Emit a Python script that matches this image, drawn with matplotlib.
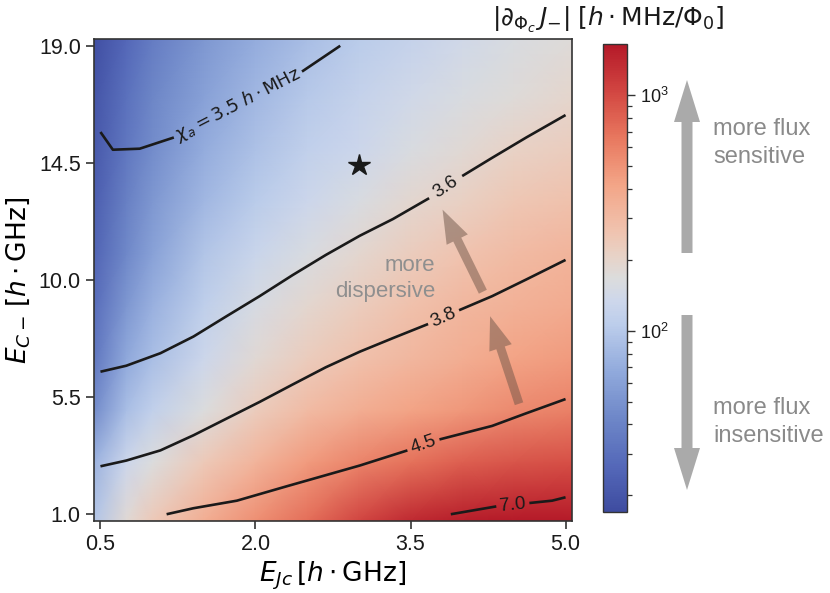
import numpy as np
import matplotlib
matplotlib.use('Agg')
import matplotlib.pyplot as plt
from matplotlib.colors import LogNorm, LinearSegmentedColormap
from matplotlib.patches import FancyArrow
from matplotlib.ticker import FormatStrFormatter

plt.rcParams['font.family'] = ['Liberation Sans', 'DejaVu Sans']
plt.rcParams['mathtext.fontset'] = 'dejavusans'

# sample nodes of the background map (E_Jc columns, E_C- rows), h*GHz
ej_nodes = [0.4375, 0.75, 1.0, 1.5, 2.0, 2.5, 3.0, 3.5, 4.0, 4.5, 5.0625]
ec_nodes = [0.75, 3.0, 5.0, 7.0, 9.0, 11.0, 13.0, 15.0, 17.0, 19.25]

log_dj = [
    [1.98, 2.26, 2.38, 2.56, 2.72, 2.86, 3.02, 3.14, 3.20, 3.22, 3.22],
    [1.88, 2.12, 2.22, 2.38, 2.52, 2.66, 2.76, 2.84, 2.92, 2.96, 2.98],
    [1.66, 1.94, 2.06, 2.22, 2.36, 2.48, 2.56, 2.62, 2.68, 2.74, 2.78],
    [1.52, 1.82, 1.94, 2.12, 2.26, 2.36, 2.44, 2.50, 2.56, 2.62, 2.66],
    [1.46, 1.72, 1.86, 2.04, 2.18, 2.28, 2.36, 2.44, 2.50, 2.54, 2.58],
    [1.40, 1.64, 1.78, 1.98, 2.10, 2.20, 2.28, 2.36, 2.42, 2.48, 2.52],
    [1.36, 1.58, 1.72, 1.90, 2.02, 2.12, 2.20, 2.28, 2.34, 2.40, 2.44],
    [1.32, 1.52, 1.66, 1.84, 1.96, 2.06, 2.12, 2.20, 2.26, 2.32, 2.36],
    [1.30, 1.48, 1.62, 1.78, 1.90, 2.00, 2.08, 2.14, 2.20, 2.24, 2.30],
    [1.26, 1.42, 1.56, 1.72, 1.84, 1.94, 2.02, 2.08, 2.14, 2.20, 2.24],
]

nan = np.nan
# chi_a contour lines (nan = gap where the label sits)
chi_lines = {
    r'$\chi_a = 3.5\;h\cdot\mathrm{MHz}$': (
        [0.50, 0.62, 0.88, 1.21, nan, 2.45, 2.82],
        [15.68, 15.00, 15.04, 15.47, nan, 18.00, 18.99]),
    '3.6': (
        [0.50, 0.75, 1.08, 1.40, 1.72, 2.04, 2.36, 2.68, 3.01, 3.33, 3.68, nan, 4.00, 4.29, 4.62, 5.00],
        [6.48, 6.71, 7.19, 7.83, 8.61, 9.38, 10.19, 10.96, 11.70, 12.34, 13.14, nan, 13.99, 14.69, 15.47, 16.33]),
    '3.8': (
        [0.50, 0.75, 1.08, 1.40, 1.72, 2.04, 2.36, 2.68, 3.01, 3.33, 3.67, nan, 3.97, 4.29, 4.62, 5.00],
        [2.85, 3.07, 3.46, 4.04, 4.68, 5.32, 5.99, 6.65, 7.25, 7.77, 8.31, nan, 8.84, 9.38, 10.02, 10.77]),
    '4.5': (
        [1.14, 1.40, 1.82, 2.30, 3.01, 3.47, nan, 3.78, 4.29, 4.61, 5.00],
        [1.01, 1.24, 1.53, 2.08, 2.88, 3.46, nan, 3.88, 4.40, 4.87, 5.43]),
    '7.0': (
        [3.89, 4.33, nan, 4.65, 4.87, 5.00],
        [1.01, 1.31, nan, 1.44, 1.53, 1.66]),
}

star_ej, star_ec = 3.0, 14.4

# "more dispersive" arrows: (tail, tip)
disp_arrows = [((4.20, 9.55), (3.81, 12.70)),
               ((4.55, 5.25), (4.27, 8.61))]

# muted coolwarm, as the reference colour bar shows it
cmap = LinearSegmentedColormap.from_list('muted_coolwarm', [
    (0.00, '#3e4ca0'), (0.10, '#5569b9'), (0.20, '#6e87c8'), (0.30, '#91aadc'),
    (0.40, '#bccdeb'), (0.45, '#cdd7eb'), (0.50, '#dcdcdc'), (0.55, '#e8d2c6'),
    (0.60, '#f0c3af'), (0.70, '#f3a587'), (0.80, '#e8785f'), (0.90, '#d24641'),
    (1.00, '#b41928')])

W, H = 830, 593
fig = plt.figure(figsize=(W / 100, H / 100), dpi=100)
ax = fig.add_axes([94 / W, 1 - 521 / H, 478 / W, 482 / H])
cax = fig.add_axes([603 / W, 1 - 512 / H, 24 / W, 468 / H])

mesh = ax.pcolormesh(ej_nodes, ec_nodes, 10 ** np.array(log_dj), shading='gouraud',
                     cmap=cmap, norm=LogNorm(vmin=17, vmax=1650))
ax.set_xlim(0.4375, 5.0625)
ax.set_ylim(0.75, 19.25)

for label, (xs, ys) in chi_lines.items():
    ax.plot(xs, ys, color='#1a1a1a', lw=1.9, solid_capstyle='butt')
    i = int(np.where(np.isnan(xs))[0][0])
    p0 = np.array([xs[i - 1], ys[i - 1]])
    p1 = np.array([xs[i + 1], ys[i + 1]])
    d0, d1 = ax.transData.transform([p0, p1])
    ang = np.degrees(np.arctan2(d1[1] - d0[1], d1[0] - d0[0]))
    fs = 13 if label.startswith('$') else 13.5
    ax.text((p0[0] + p1[0]) / 2, (p0[1] + p1[1]) / 2, label, rotation=ang,
            rotation_mode='anchor', ha='center', va='center', fontsize=fs,
            color='#1a1a1a')

ax.plot([star_ej], [star_ec], marker='*', ms=16, color='#1a1a1a', ls='none')

for tail, tip in disp_arrows:
    ax.annotate('', xy=tip, xytext=tail,
                arrowprops=dict(arrowstyle='simple,head_length=1.2,head_width=0.85,tail_width=0.32',
                                mutation_scale=20, color='#6e5548', alpha=0.5, lw=0,
                                shrinkA=0, shrinkB=0))
ax.text(3.74, 10.05, 'more\ndispersive', ha='right', va='center', multialignment='right',
        fontsize=16, color='#8f8f8f', linespacing=1.3)

ax.set_xticks([0.5, 2.0, 3.5, 5.0])
ax.set_yticks([1.0, 5.5, 10.0, 14.5, 19.0])
ax.xaxis.set_major_formatter(FormatStrFormatter('%.1f'))
ax.yaxis.set_major_formatter(FormatStrFormatter('%.1f'))
ax.tick_params(direction='out', length=6, width=1.2, color='#333333',
               labelsize=15.5, labelcolor='#1a1a1a')
for s in ax.spines.values():
    s.set_color('#333333')
    s.set_linewidth(1.2)
ax.set_xlabel(r'$E_{Jc}\,[h\cdot\mathrm{GHz}]$', fontsize=19, labelpad=3)
ax.set_ylabel(r'$E_{C-}\,[h\cdot\mathrm{GHz}]$', fontsize=19, labelpad=5)

cb = fig.colorbar(mesh, cax=cax)
cb.outline.set_edgecolor('#333333')
cb.outline.set_linewidth(1.0)
cax.tick_params(which='major', length=6, width=1.0, color='#333333',
                labelsize=13, labelcolor='#1a1a1a')
cax.tick_params(which='minor', length=3.5, width=0.9, color='#333333')
fig.text(608 / W, 1 - 20 / H,
         r'$|\partial_{\Phi_c}\,J_{-}|\;[h\cdot\mathrm{MHz}/\Phi_0]$',
         ha='center', va='center', fontsize=18, color='#1a1a1a')

# flux sensitivity arrows to the right of the colour bar (pixel overlay)
ov = fig.add_axes([0, 0, 1, 1])
ov.set_xlim(0, W)
ov.set_ylim(H, 0)
ov.axis('off')
ov.add_patch(FancyArrow(687, 253, 0, -173, width=11, head_width=26, head_length=42,
                        length_includes_head=True, color='#aaaaaa', lw=0))
ov.add_patch(FancyArrow(687, 315, 0, 175, width=11, head_width=26, head_length=42,
                        length_includes_head=True, color='#aaaaaa', lw=0))
ov.text(713, 143, 'more flux\nsensitive', ha='left', va='center', fontsize=17,
        color='#8a8a8a', linespacing=1.3)
ov.text(713, 422, 'more flux\ninsensitive', ha='left', va='center', fontsize=17,
        color='#8a8a8a', linespacing=1.3)

fig.savefig('out.png', dpi=100)
